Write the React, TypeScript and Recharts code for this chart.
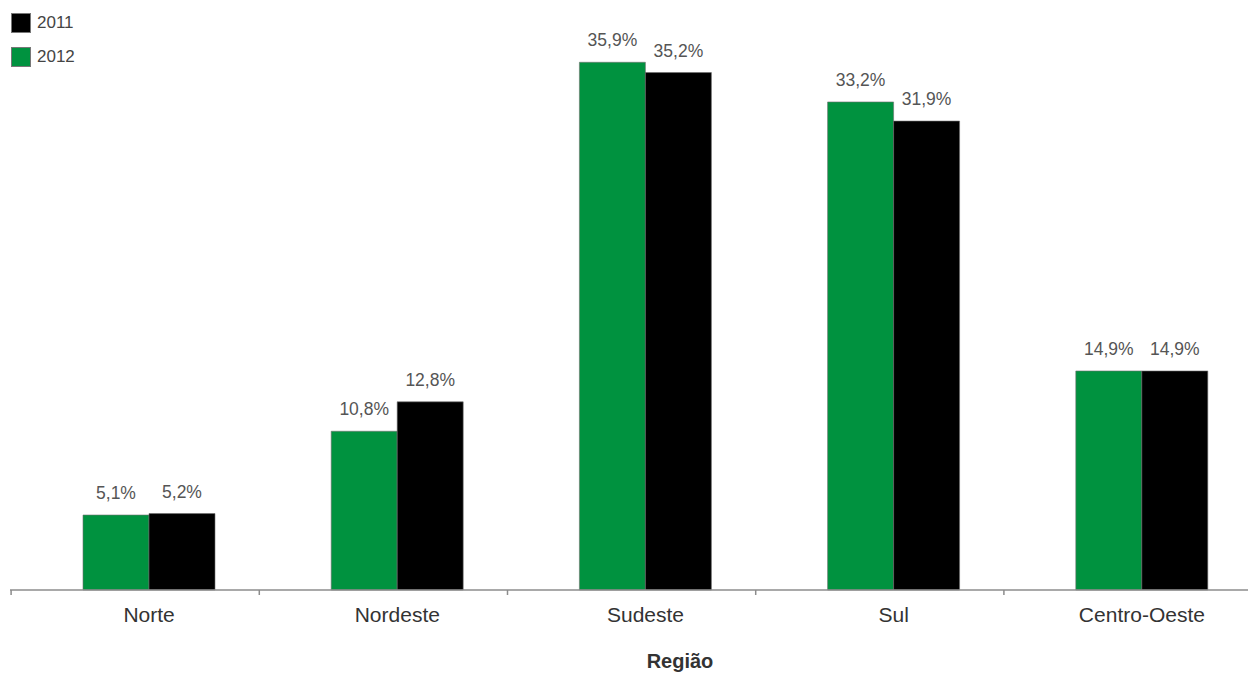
import { Bar, BarChart, LabelList, XAxis, YAxis, Label } from "recharts";

const regions = ["Norte", "Nordeste", "Sudeste", "Sul", "Centro-Oeste"];
const values2012 = [5.1, 10.8, 35.9, 33.2, 14.9];
const values2011 = [5.2, 12.8, 35.2, 31.9, 14.9];

const legendItems = [
  { label: "2011", color: "#000000" },
  { label: "2012", color: "#00923f" },
];

const data = regions.map((region, i) => ({
  region,
  y2012: values2012[i],
  y2011: values2011[i],
}));

const FONT = '"Liberation Sans", Arial, sans-serif';
const TICK_SIZE = 5;
const TICK_MARGIN = 12;
const TICK_SHIFT = 138;

const pct = (v: unknown) => `${Number(v).toFixed(1).replace(".", ",")}%`;

function RegionTick(props: any) {
  const { x, y, payload } = props;
  const axisY = y - TICK_MARGIN - TICK_SIZE;
  return (
    <g>
      <line
        x1={x - TICK_SHIFT}
        x2={x - TICK_SHIFT}
        y1={axisY}
        y2={axisY + TICK_SIZE}
        stroke="#8c8c8c"
        strokeWidth={1.5}
      />
      <text
        x={x}
        y={y}
        dy="0.71em"
        textAnchor="middle"
        fontSize={21}
        fill="#333"
        fontFamily={FONT}
      >
        {payload.value}
      </text>
    </g>
  );
}

// legend kept outside the svg so it doesn't take space from the plot
function LegendBox() {
  return (
    <div
      style={{
        position: "absolute",
        left: 11,
        top: 6,
        fontFamily: FONT,
        fontSize: 17,
        color: "#444",
        zIndex: 1,
      }}
    >
      {legendItems.map((item) => (
        <div
          key={item.label}
          style={{ display: "flex", alignItems: "center", height: 34 }}
        >
          <span
            style={{
              width: 20,
              height: 20,
              background: item.color,
              marginRight: 6,
              boxShadow: "0 0 0 1px #777 inset",
            }}
          />
          {item.label}
        </div>
      ))}
    </div>
  );
}

export default function App() {
  return (
    <div
      style={{
        position: "absolute",
        left: 0,
        top: 0,
        width: 1248,
        height: 677,
        overflow: "hidden",
        background: "#fff",
      }}
    >
      <LegendBox />
      <BarChart
        width={1270}
        height={677}
        data={data}
        margin={{ top: 2, right: 4, left: 10, bottom: 0 }}
        barGap={0}
        barSize={66}
      >
        <XAxis
          dataKey="region"
          height={87}
          padding={{ left: 15, right: 0 }}
          stroke="#8c8c8c"
          strokeWidth={1.5}
          tickLine={false}
          tickSize={TICK_SIZE}
          tickMargin={TICK_MARGIN}
          tick={<RegionTick />}
          interval={0}
        >
          <Label
            value="Região"
            position="insideBottom"
            offset={9}
            dx={42}
            style={{ fontFamily: FONT, fontSize: 20, fontWeight: "bold", fill: "#333" }}
          />
        </XAxis>
        <YAxis hide domain={[0, 40]} />
        <Bar
          dataKey="y2012"
          name="2012"
          fill="#00923f"
          stroke="#6f6f6f"
          strokeWidth={0.6}
          isAnimationActive={false}
        >
          <LabelList
            dataKey="y2012"
            position="top"
            offset={16}
            formatter={pct}
            style={{ fontFamily: FONT, fontSize: 17.5, fill: "#555" }}
          />
        </Bar>
        <Bar
          dataKey="y2011"
          name="2011"
          fill="#000000"
          stroke="#6f6f6f"
          strokeWidth={0.6}
          isAnimationActive={false}
        >
          <LabelList
            dataKey="y2011"
            position="top"
            offset={16}
            formatter={pct}
            style={{ fontFamily: FONT, fontSize: 17.5, fill: "#555" }}
          />
        </Bar>
      </BarChart>
    </div>
  );
}
